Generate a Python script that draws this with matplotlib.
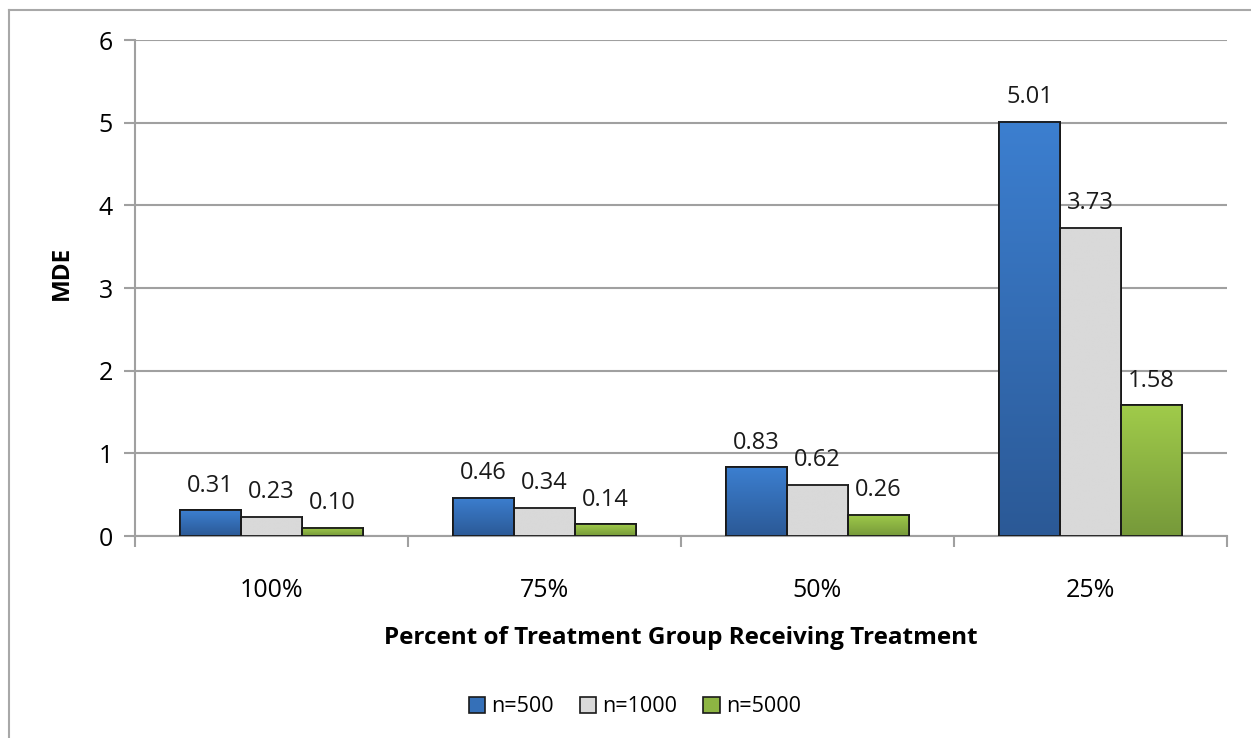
import numpy as np
import matplotlib.pyplot as plt
from matplotlib.patches import Rectangle
from matplotlib.colors import LinearSegmentedColormap
from matplotlib.lines import Line2D

plt.rcParams['font.family'] = ['Open Sans', 'DejaVu Sans']

categories = ['100%', '75%', '50%', '25%']
series_names = ['n=500', 'n=1000', 'n=5000']
n500 = [0.31, 0.46, 0.83, 5.01]
n1000 = [0.23, 0.34, 0.62, 3.73]
n5000 = [0.10, 0.14, 0.26, 1.58]
labels500 = ['0.31', '0.46', '0.83', '5.01']
labels1000 = ['0.23', '0.34', '0.62', '3.73']
labels5000 = ['0.10', '0.14', '0.26', '1.58']

# top colour, bottom colour for each series
grad_colors = [('#3c7fd0', '#2b5996'), ('#d9d9d9', '#d9d9d9'), ('#a0cb4a', '#76993a')]
legend_colors = ['#3570b8', '#d9d9d9', '#8db543']

W, H = 1251, 738
fig = plt.figure(figsize=(W / 100, H / 100), dpi=100)
ax = fig.add_axes([135 / W, 1 - 536 / H, (1227 - 135) / W, (536 - 40) / H])

x = np.arange(len(categories))
bw = 0.223
series = [n500, n1000, n5000]
labels = [labels500, labels1000, labels5000]

ax.set_xlim(-0.5, len(categories) - 0.5)
ax.set_ylim(0, 6)

for i, vals in enumerate(series):
    offs = (i - 1) * bw
    bars = ax.bar(x + offs, vals, bw, color=legend_colors[i], edgecolor='black',
                  linewidth=1.3, zorder=3)
    cmap = LinearSegmentedColormap.from_list('g%d' % i, [grad_colors[i][1], grad_colors[i][0]])
    for b, txt in zip(bars, labels[i]):
        x0, w, h = b.get_x(), b.get_width(), b.get_height()
        grad = np.linspace(0, 1, 256).reshape(-1, 1)
        im = ax.imshow(grad, extent=(x0, x0 + w, 0, h), origin='lower', cmap=cmap,
                       vmin=0, vmax=1, aspect='auto', zorder=3.5)
        ax.add_patch(Rectangle((x0, 0), w, h, fill=False, edgecolor='#1a1a1a',
                               linewidth=1.3, zorder=4))
        ax.annotate(txt, (x0 + w / 2, h), xytext=(0, 9), textcoords='offset points',
                    ha='center', va='bottom', fontsize=17, color='#1a1a1a', zorder=5)

ax.set_xlim(-0.5, len(categories) - 0.5)
ax.set_ylim(0, 6)

ax.set_yticks(range(7))
ax.tick_params(axis='y', length=8, width=1.5, color='#a0a0a0', labelsize=18, pad=8)
ax.set_xticks(np.arange(len(categories) + 1) - 0.5)
ax.set_xticklabels([])
ax.set_xticks(x, minor=True)
ax.set_xticklabels(categories, minor=True, fontsize=18)
ax.tick_params(axis='x', which='major', length=8, width=1.5, color='#a0a0a0', direction='out')
ax.tick_params(axis='x', which='minor', length=0, pad=30)
ax.grid(axis='y', color='#a0a0a0', linewidth=1.5, zorder=0)
ax.set_axisbelow(True)
for s in ['top', 'right']:
    ax.spines[s].set_visible(False)
for s in ['left', 'bottom']:
    ax.spines[s].set_color('#a0a0a0')
    ax.spines[s].set_linewidth(1.5)

fig.text(62 / W, 1 - 273 / H, 'MDE', rotation=90, ha='center', va='center',
         fontsize=17.5, fontweight='bold')
fig.text(681 / W, 1 - 638 / H, 'Percent of Treatment Group Receiving Treatment',
         ha='center', va='center', fontsize=17.5, fontweight='bold')

handles = [Rectangle((0, 0), 1, 1, facecolor=c, edgecolor='#1a1a1a', linewidth=1.2)
           for c in legend_colors]
fig.legend(handles, series_names, loc='center', bbox_to_anchor=(635 / W, 1 - 707 / H),
           ncol=3, frameon=False, fontsize=15.5, handlelength=0.75, handleheight=0.75,
           handletextpad=0.3, columnspacing=1.2)

# outer chart border (left and top edges visible)
fig.add_artist(Line2D([9 / W, 9 / W], [0, 1 - 10 / H], color='#a8a8a8', linewidth=1.5))
fig.add_artist(Line2D([9 / W, 1], [1 - 10 / H, 1 - 10 / H], color='#a8a8a8', linewidth=1.5))

fig.savefig('out.png', dpi=100)
